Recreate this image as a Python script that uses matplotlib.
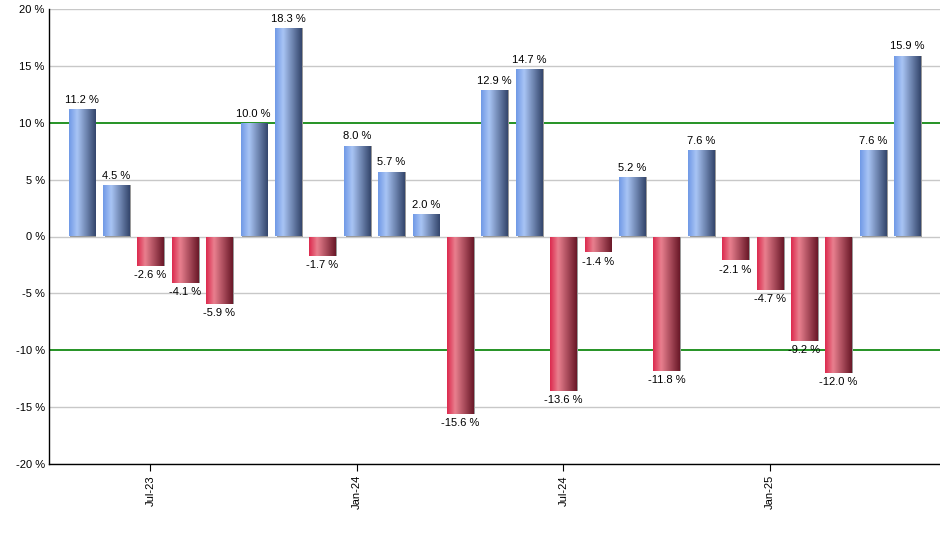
import numpy as np
import pandas as pd
import matplotlib
matplotlib.use("Agg")
import matplotlib.pyplot as plt
from matplotlib.colors import LinearSegmentedColormap

months = pd.date_range("2023-05-01", "2025-05-01", freq="MS")
returns = [11.2, 4.5, -2.6, -4.1, -5.9, 10.0, 18.3, -1.7, 8.0, 5.7, 2.0, -15.6,
           12.9, 14.7, -13.6, -1.4, 5.2, -11.8, 7.6, -2.1, -4.7, -9.2, -12.0, 7.6, 15.9]
tick_months = ["Jul-23", "Jan-24", "Jul-24", "Jan-25"]

plt.rcParams['font.family'] = ['Liberation Sans', 'DejaVu Sans']

# 渐变色
blue_cm = LinearSegmentedColormap.from_list(
    "blue", [(0.0, "#7099e6"), (0.3, "#a9c5f5"), (1.0, "#34466c")])
red_cm = LinearSegmentedColormap.from_list(
    "red", [(0.0, "#dc2a4e"), (0.3, "#e9808f"), (1.0, "#6a1828")])

fig = plt.figure(figsize=(9.4, 5.5), dpi=100)
ax = fig.add_axes([49/940, 1-464/550, 1-49/940, (464-9)/550])

x = np.arange(len(returns))
width = 0.76

# 灰色阴影
ax.bar(x + 0.05, returns, width=width, color="#9a9a9a", zorder=2)
bars = ax.bar(x, returns, width=width, color="none", zorder=3)

grad = np.linspace(0, 1, 64).reshape(1, -1)
for b, v in zip(bars, returns):
    x0, y0 = b.get_x(), b.get_y()
    w, h = b.get_width(), b.get_height()
    cm = blue_cm if v >= 0 else red_cm
    im = ax.imshow(grad, cmap=cm, aspect="auto", interpolation="bicubic",
                   extent=(x0, x0 + w, y0, y0 + h), zorder=3)
    im.set_clip_path(b)

ax.bar_label(bars, labels=["%.1f %%" % v for v in returns], padding=3, fontsize=8)

ax.set_xlim(-0.95, len(returns) - 0.05)
ax.set_ylim(-20, 20)
ax.set_yticks(range(-20, 21, 5))
ax.set_yticklabels(["%d %%" % t for t in range(-20, 21, 5)], fontsize=8)
ax.tick_params(axis="y", length=0, pad=3)

labels = [m.strftime("%b-%y") for m in months]
tpos = [labels.index(t) for t in tick_months]
ax.set_xticks(tpos)
ax.set_xticklabels(tick_months, rotation=90, fontsize=8)
ax.tick_params(axis="x", length=5, pad=3)

for t in range(-20, 21, 5):
    if abs(t) == 10:
        ax.axhline(t, color="#008000", lw=1.2, zorder=1)
    else:
        ax.axhline(t, color="#c8c8c8", lw=1.0, zorder=1)

ax.spines["top"].set_visible(False)
ax.spines["right"].set_visible(False)
ax.spines["left"].set_linewidth(1.0)
ax.spines["bottom"].set_linewidth(1.0)

fig.savefig("out.png", dpi=100)
